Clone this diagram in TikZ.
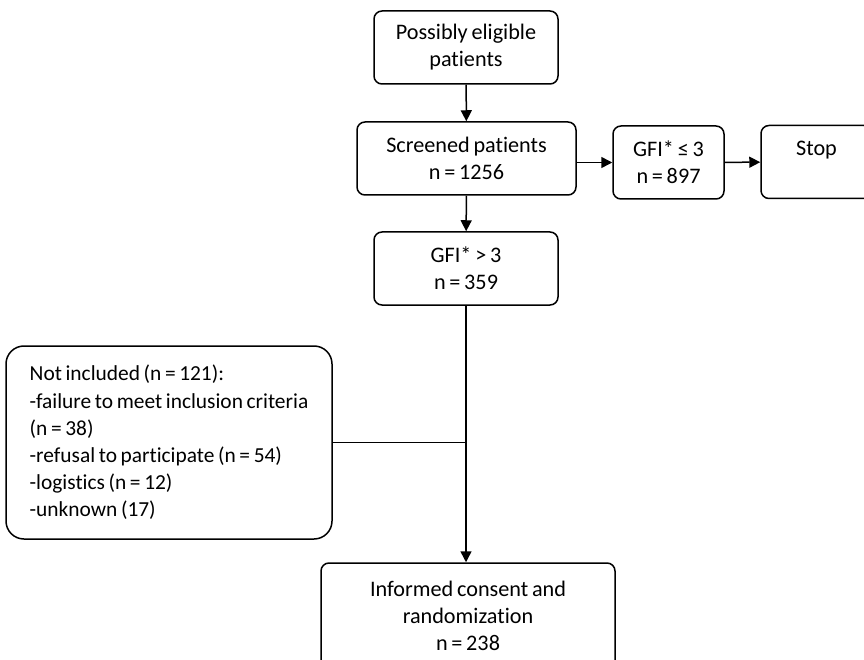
\documentclass[tikz,border=0pt]{standalone}
\usepackage{fontspec}
\setmainfont{Carlito}[Ligatures=NoCommon, WordSpace={0.75,0,0}]
\usetikzlibrary{arrows.meta,positioning}

\begin{document}
\begin{tikzpicture}[
  x=1pt, y=-1pt,
  font=\fontsize{22.2}{27}\selectfont,
  stepbox/.style={draw, line width=1.5pt, rounded corners=8pt, align=center, inner sep=0pt, minimum height=73pt},
  flow/.style={draw, line width=1.5pt, -{Triangle[length=11pt,width=11pt]}},
  link/.style={draw, line width=1.5pt},
]
  \useasboundingbox (0,0) rectangle (864,660);
  \clip (0,0) rectangle (864,660);

  % Main column
  \node[stepbox, minimum width=184pt] (elig)   at (466,47.5)  {Possibly eligible\\patients};
  \node[stepbox, minimum width=219pt] (screen) at (466.5,158.5) {Screened patients\\n = 1256};
  \node[stepbox, minimum width=184pt] (high)   at (466,268.5) {GFI* > 3\\n = 359};
  \node[stepbox, minimum width=294pt, minimum height=106pt] (final) at (468,616)
    {Informed consent and\\randomization\\n = 238};

  % Side branch
  \node[stepbox, minimum width=111pt] (low)  at (668.5,162.5) {GFI* ≤ 3\\n = 897};
  \node[stepbox, minimum width=111pt] (stop) at (816.5,162)   {Stop\\\phantom{S}};

  % Exclusions
  \node[stepbox, rounded corners=18pt, align=left, minimum width=326pt,
        minimum height=193pt, font=\fontsize{21.4}{27.2}\selectfont] (excl) at (169,442.5)
    {Not included (n = 121):\\-failure to meet inclusion criteria\\(n = 38)\\-refusal to participate (n = 54)\\-logistics (n = 12)\\-unknown (17)};

  % Connectors
  \draw[flow] (elig) -- (screen);
  \draw[flow] (screen) -- (high);
  \draw[flow] (screen.east |- low) -- (low);
  \draw[flow] (low) -- (stop);
  \draw[flow] (high.south) -- (high.south |- final.north);
  \draw[link] (excl.east) -- (excl.east -| high.south);
\end{tikzpicture}
\end{document}
